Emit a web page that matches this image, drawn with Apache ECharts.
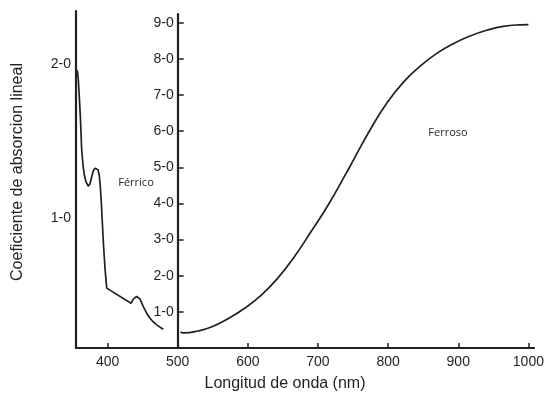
<!DOCTYPE html>
<html>
<head>
<meta charset="utf-8">
<script src="https://cdn.jsdelivr.net/npm/echarts@6/dist/echarts.min.js"></script>
<style>
  html, body { margin: 0; padding: 0; background: #fff; }
  #chart { width: 549px; height: 395px; }
</style>
</head>
<body>
<div id="chart"></div>
<script>
// wavelength ticks (nm)
const xTicks = [400, 500, 600, 700, 800, 900, 1000]
const leftTicks = [1, 2]
const rightTicks = [1, 2, 3, 4, 5, 6, 7, 8, 9]

// Férrico (left scale)
const ferricX = [356.9, 358.3, 359.7, 361.4, 363.1, 365.0, 366.8, 369.3, 372.5, 375.0, 377.4, 379.7,
  382.1, 384.2, 386.4, 388.2, 389.6, 391.1, 392.5, 394.2, 396.3, 398.8,
  433.4, 436.7, 441.5, 446.2, 450.9, 455.8, 460.5, 465.2, 470.1, 474.8, 479.5]
const ferricY = [1.963, 1.902, 1.791, 1.641, 1.444, 1.346, 1.281, 1.235, 1.206, 1.222, 1.268, 1.307,
  1.324, 1.327, 1.314, 1.275, 1.209, 1.098, 0.974, 0.824, 0.673, 0.541,
  0.442, 0.469, 0.486, 0.471, 0.420, 0.377, 0.344, 0.320, 0.301, 0.286, 0.273]

// Ferroso (right scale)
const ferrousX = [504.0, 507.6, 528.9, 547.9, 571.7, 595.5, 619.2, 643.0, 666.8, 690.5, 714.3, 738.1, 750.3,
  774.2, 798.0, 821.6, 845.4, 869.3, 892.9, 916.7, 940.5, 964.2, 988.0, 1000]
const ferrousY = [0.44, 0.42, 0.47, 0.58, 0.81, 1.10, 1.46, 1.94, 2.54, 3.23, 3.95, 4.76, 5.19,
  6.03, 6.77, 7.35, 7.79, 8.15, 8.42, 8.63, 8.79, 8.90, 8.94, 8.945]

const ink = '#231f20'
const tickFont = { color: ink, fontSize: 14, fontFamily: 'Liberation Sans' }
const fmt = v => Math.round(v) + '-0'

const chart = echarts.init(document.getElementById('chart'))
chart.setOption({
  animation: false,
  grid: [
    { left: 76, right: 15, top: 11, bottom: 47 },
    { left: 177.7, right: 15, top: 14, bottom: 47 },
  ],
  xAxis: [
    {
      type: 'value', gridIndex: 0, min: 355, max: 1008,
      axisLine: { lineStyle: { color: ink, width: 2.2 } },
      axisTick: { inside: true, length: 5, lineStyle: { color: ink, width: 1.5 }, customValues: xTicks },
      axisLabel: { ...tickFont, margin: 7, customValues: xTicks, formatter: v => String(v) },
      splitLine: { show: false },
    },
    { type: 'value', gridIndex: 1, min: 500, max: 1008, show: false },
  ],
  yAxis: [
    {
      type: 'value', gridIndex: 0, min: 0.15, max: 2.35,
      axisLine: { show: true, lineStyle: { color: ink, width: 2.2 } },
      axisTick: { show: false },
      axisLabel: { ...tickFont, margin: 5, customValues: leftTicks, formatter: fmt },
      splitLine: { show: false },
    },
    {
      type: 'value', gridIndex: 1, min: 0, max: 9.24,
      axisLine: { show: true, lineStyle: { color: ink, width: 2.2 } },
      axisTick: { inside: true, length: 6, lineStyle: { color: ink, width: 1.5 }, customValues: rightTicks },
      axisLabel: { ...tickFont, margin: 4, customValues: rightTicks, formatter: fmt },
      splitLine: { show: false },
    },
  ],
  graphic: [
    {
      type: 'text', x: 18, y: 172, rotation: Math.PI / 2,
      style: { text: 'Coeficiente de absorcion lineal', fill: ink, font: '16px "Liberation Sans"', align: 'center', verticalAlign: 'middle' },
    },
    {
      type: 'text', x: 285, y: 384,
      style: { text: 'Longitud de onda (nm)', fill: ink, font: '16px "Liberation Sans"', align: 'center', verticalAlign: 'middle' },
    },
    {
      type: 'text', x: 136, y: 183,
      style: { text: 'Férrico', fill: ink, font: '11px "Open Sans"', align: 'center', verticalAlign: 'middle' },
    },
    {
      type: 'text', x: 448, y: 133,
      style: { text: 'Ferroso', fill: ink, font: '11px "Open Sans"', align: 'center', verticalAlign: 'middle' },
    },
  ],
  series: [
    {
      name: 'Férrico', type: 'line', xAxisIndex: 0, yAxisIndex: 0,
      data: ferricX.map((x, i) => [x, ferricY[i]]),
      showSymbol: false, smooth: false,
      lineStyle: { color: ink, width: 1.7 },
    },
    {
      name: 'Ferroso', type: 'line', xAxisIndex: 1, yAxisIndex: 1,
      data: ferrousX.map((x, i) => [x, ferrousY[i]]),
      showSymbol: false, smooth: 0.5,
      lineStyle: { color: ink, width: 1.7 },
    },
  ],
})
</script>
</body>
</html>
